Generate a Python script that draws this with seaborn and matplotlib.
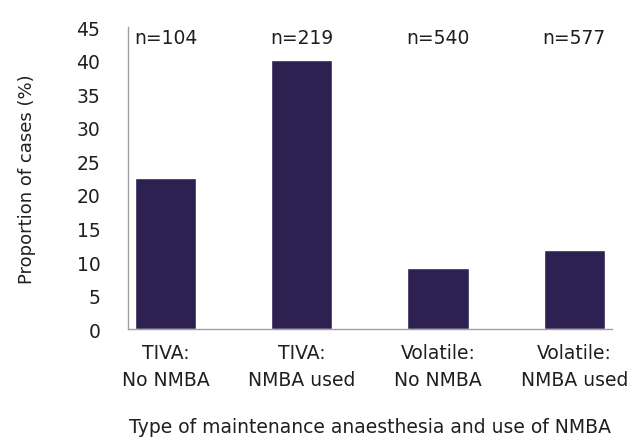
import matplotlib
matplotlib.use("Agg")
import matplotlib.pyplot as plt
import seaborn as sns
import pandas as pd

categories = ["TIVA:\nNo NMBA", "TIVA:\nNMBA used", "Volatile:\nNo NMBA", "Volatile:\nNMBA used"]
proportions = [22.5, 40.1, 9.1, 11.8]
n_labels = ["n=104", "n=219", "n=540", "n=577"]
y_ticks = [0, 5, 10, 15, 20, 25, 30, 35, 40, 45]

sns.set_theme(style="white")
plt.rcParams['font.family'] = ['DejaVu Sans']

TXT = "#1f1f1f"
FS = 13.5

df = pd.DataFrame({"cat": categories, "val": proportions})

fig = plt.figure(figsize=(6.34, 4.39), dpi=100)
ax = fig.add_axes([0.202, 0.248, 0.763, 0.688])
sns.barplot(data=df, x="cat", y="val", color="#2d2152", width=0.45,
            saturation=1, ax=ax)

ax.set_xlim(-0.276, 3.276)
ax.set_ylim(0, 45)
ax.set_yticks(y_ticks)
ax.tick_params(axis='both', length=0, labelsize=FS, colors=TXT)
ax.tick_params(axis='x', pad=10)
ax.tick_params(axis='y', pad=20)
for lab in ax.get_xticklabels():
    lab.set_linespacing(1.55)

for i, t in enumerate(n_labels):
    ax.text(i, 43.4, t, ha='center', va='center', fontsize=FS, color=TXT)

for s in ["top", "right"]:
    ax.spines[s].set_visible(False)
for s in ["left", "bottom"]:
    ax.spines[s].set_color("#a0a0a0")
    ax.spines[s].set_linewidth(1.0)

ax.set_xlabel("Type of maintenance anaesthesia and use of NMBA", fontsize=FS,
              labelpad=20, color=TXT)
ax.set_ylabel("Proportion of cases (%)", fontsize=13, color=TXT)
ax.yaxis.set_label_coords((36 - 128) / 484, 0.5)

fig.savefig("out.png", dpi=100)
